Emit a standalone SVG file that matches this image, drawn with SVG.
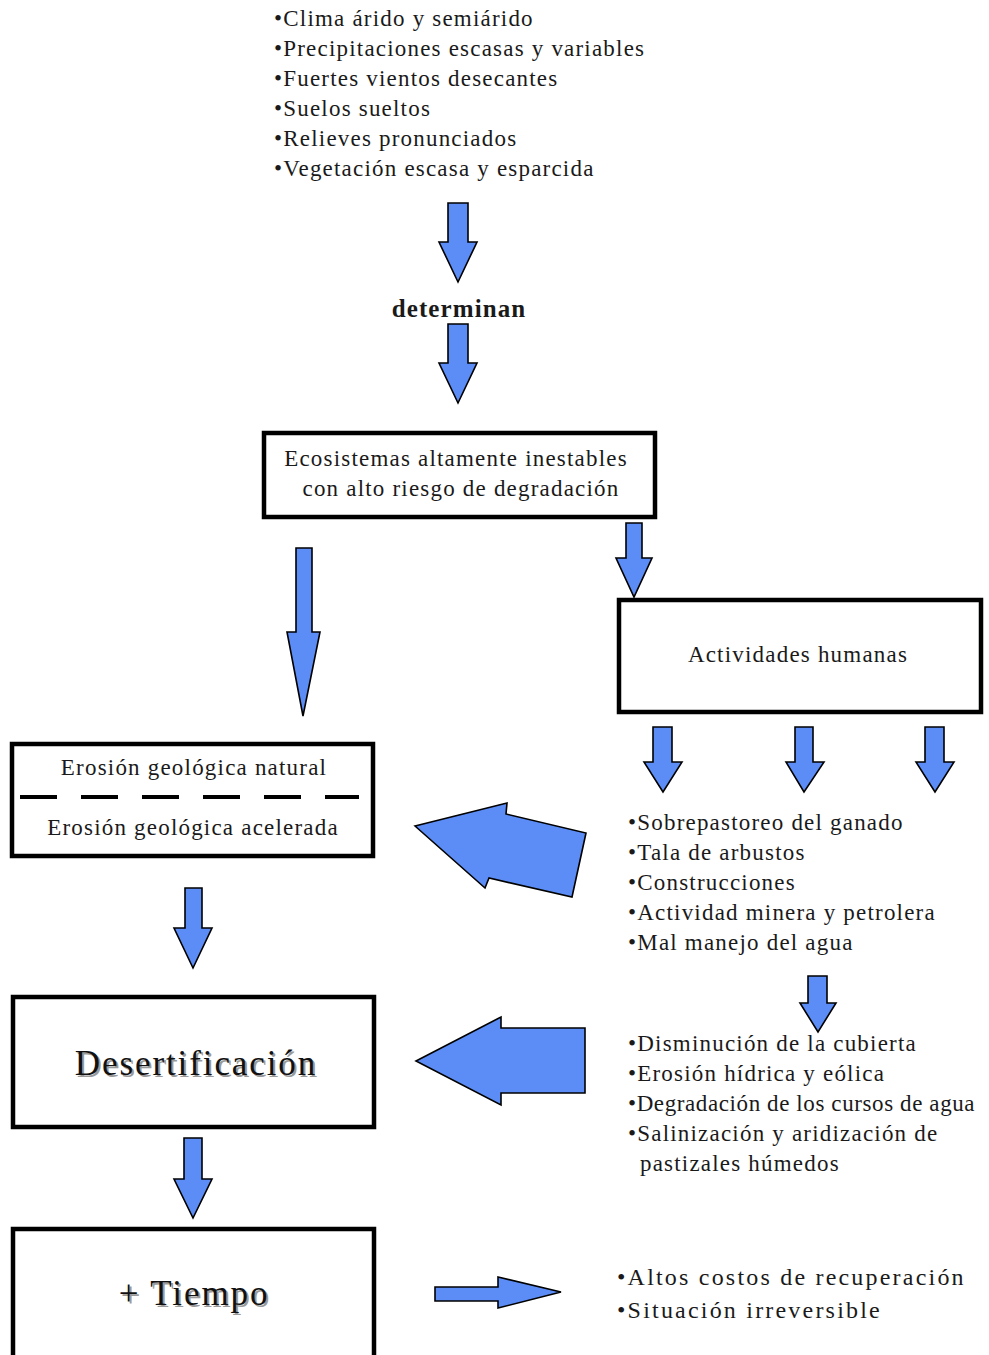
<svg xmlns="http://www.w3.org/2000/svg" width="989" height="1355" viewBox="0 0 989 1355">
<style>
.t{font-family:"Liberation Serif","Times New Roman",serif;font-size:23px;fill:#1a1a1a;letter-spacing:1.2px}
.c{text-anchor:middle}
.big{font-family:"Liberation Serif","Times New Roman",serif;font-size:35px;fill:#111;letter-spacing:1.9px;text-anchor:middle}
.sh{fill:#9a9a9a}
.box{fill:#fff;stroke:#000;stroke-width:4.5}
.ar{fill:#5c8df6;stroke:#000;stroke-width:1.6;stroke-linejoin:miter}
.l{font-family:"Liberation Serif","Times New Roman",serif;font-size:24px;fill:#1a1a1a;letter-spacing:2.2px}
</style>
<rect width="989" height="1355" fill="#fff"/>

<g id="factores">
<text class="t" x="274" y="26">•Clima árido y semiárido</text>
<text class="t" x="274" y="56">•Precipitaciones escasas y variables</text>
<text class="t" x="274" y="86">•Fuertes vientos desecantes</text>
<text class="t" x="274" y="116">•Suelos sueltos</text>
<text class="t" x="274" y="146">•Relieves pronunciados</text>
<text class="t" x="274" y="176">•Vegetación escasa y esparcida</text>
</g>

<g id="determinan">
<text x="459" y="317" text-anchor="middle" style="font-family:'Liberation Serif','Times New Roman',serif;font-size:25px;font-weight:bold;fill:#1a1a1a;letter-spacing:1.1px">determinan</text>
</g>

<g id="ecosistemas">
<rect class="box" x="264" y="433" width="391" height="84"/>
<text class="t c" x="456" y="466">Ecosistemas altamente inestables</text>
<text class="t c" x="461" y="496">con alto riesgo de degradación</text>
</g>

<g id="actividades">
<rect class="box" x="619" y="600" width="362" height="112"/>
<text class="t c" x="798" y="662">Actividades humanas</text>
</g>

<g id="erosion">
<rect class="box" x="12" y="744" width="361" height="112"/>
<text class="t c" x="194" y="775">Erosión geológica natural</text>
<line x1="20" y1="797" x2="359" y2="797" stroke="#000" stroke-width="4" stroke-dasharray="37 24"/>
<text class="t c" x="193" y="835">Erosión geológica acelerada</text>
</g>

<g id="acciones">
<text class="t" x="628" y="830">•Sobrepastoreo del ganado</text>
<text class="t" x="628" y="860">•Tala de arbustos</text>
<text class="t" x="628" y="890">•Construcciones</text>
<text class="t" x="628" y="920">•Actividad minera y petrolera</text>
<text class="t" x="628" y="950">•Mal manejo del agua</text>
</g>

<g id="efectos">
<text class="t" x="628" y="1051">•Disminución de la cubierta</text>
<text class="t" x="628" y="1081">•Erosión hídrica y eólica</text>
<text class="t" x="628" y="1111" style="letter-spacing:0.6px">•Degradación de los cursos de agua</text>
<text class="t" x="628" y="1141">•Salinización y aridización de</text>
<text class="t" x="640" y="1171">pastizales húmedos</text>
</g>

<g id="desertificacion">
<rect class="box" x="13" y="997" width="361" height="130"/>
<text class="big sh" x="198" y="1077">Desertificación</text>
<text class="big" x="196" y="1075">Desertificación</text>
</g>

<g id="tiempo">
<rect class="box" x="13" y="1229" width="361" height="160"/>
<text class="big sh" x="196" y="1307">+ Tiempo</text>
<text class="big" x="194" y="1305">+ Tiempo</text>
</g>

<g id="consecuencias">
<text class="l" x="617" y="1285">•Altos costos de recuperación</text>
<text class="l" x="617" y="1318">•Situación irreversible</text>
</g>

<g id="connectors">
<polygon class="ar" points="448,203 468,203 468,242 477,242 458,282 439,242 448,242"/>
<polygon class="ar" points="448,324 468,324 468,363 477,363 458,403 439,363 448,363"/>
<polygon class="ar" points="626,523 642,523 642,558 652,558 634,597 616,558 626,558"/>
<polygon class="ar" points="296,548 312,548 312,632 320,632 303,716 287,632 296,632"/>
<polygon class="ar" points="653,727 672,727 672,762 682,762 663,792 644,762 653,762"/>
<polygon class="ar" points="795,727 813,727 813,762 824,762 804,792 786,762 795,762"/>
<polygon class="ar" points="925,727 944,727 944,762 954,762 935,792 916,762 925,762"/>
<polygon class="ar" points="808,976 827,976 827,1003 836,1003 818,1032 800,1003 808,1003"/>
<polygon class="ar" points="185,888 202,888 202,928 212,928 193,968 174,928 185,928"/>
<polygon class="ar" points="184,1138 202,1138 202,1179 212,1179 193,1218 174,1179 184,1179"/>
<polygon class="ar" points="415,826 507,803 506,814 586,833 572,897 489,878 485,888"/>
<polygon class="ar" points="416,1061 501,1017 501,1028 585,1028 585,1093 501,1093 501,1105"/>
<polygon class="ar" points="435,1287 498,1287 498,1277 561,1292 498,1308 498,1301 435,1301"/>
</g>
</svg>
